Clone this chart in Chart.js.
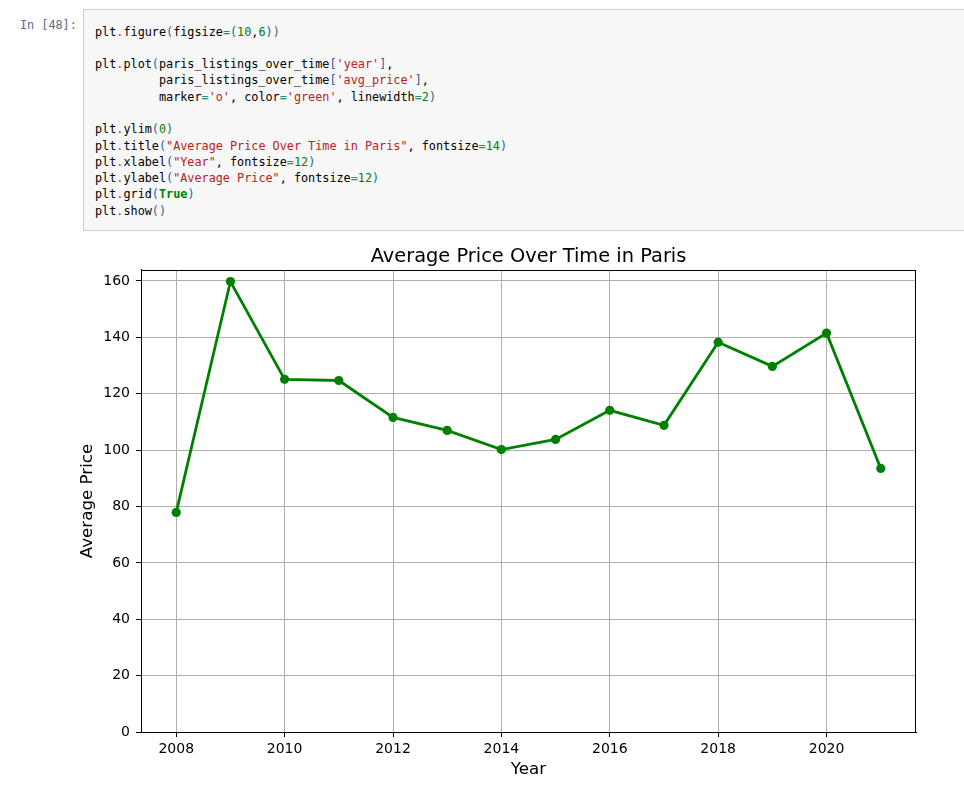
<!DOCTYPE html>
<html>
<head>
<meta charset="utf-8">
<script src="https://cdn.jsdelivr.net/npm/chart.js@4.4.0/dist/chart.umd.min.js"></script>
<style>
  html, body { margin: 0; padding: 0; background: #fff; }
  body { width: 964px; height: 802px; position: relative; overflow: hidden; }
  .prompt {
    position: absolute; left: 20px; top: 17px;
    font: 11.8px/16.3px "DejaVu Sans Mono", monospace; color: #5a6a8c;
  }
  .cell {
    position: absolute; left: 83px; top: 9px; width: 900px; height: 222px;
    background: #f7f7f7; border: 1px solid #cfcfcf; box-sizing: border-box;
  }
  .cell pre {
    position: absolute; left: 11px; top: 13.5px; margin: 0;
    font: 11.8px/16.3px "DejaVu Sans Mono", monospace; color: #000;
  }
  .o { color: #8a3fb0; }   /* dot operator */
  .b { color: #1f5f9f; }   /* brackets */
  .e { color: #2a8a7a; }   /* = */
  .n { color: #008000; }   /* numbers */
  .s { color: #ba2121; }   /* strings */
  .k { color: #008000; font-weight: bold; }
  #wrap { position: absolute; left: 0; top: 236px; width: 964px; height: 566px; }
</style>
</head>
<body>
<div class="prompt">In [48]:</div>
<div class="cell"><pre>plt<span class="o">.</span>figure<span class="b">(</span>figsize<span class="e">=</span><span class="b">(</span><span class="n">10</span>,<span class="n">6</span><span class="b">))</span>

plt<span class="o">.</span>plot<span class="b">(</span>paris_listings_over_time<span class="b">[</span><span class="s">'year'</span><span class="b">]</span>,
         paris_listings_over_time<span class="b">[</span><span class="s">'avg_price'</span><span class="b">]</span>,
         marker<span class="e">=</span><span class="s">'o'</span>, color<span class="e">=</span><span class="s">'green'</span>, linewidth<span class="e">=</span><span class="n">2</span><span class="b">)</span>

plt<span class="o">.</span>ylim<span class="b">(</span><span class="n">0</span><span class="b">)</span>
plt<span class="o">.</span>title<span class="b">(</span><span class="s">"Average Price Over Time in Paris"</span>, fontsize<span class="e">=</span><span class="n">14</span><span class="b">)</span>
plt<span class="o">.</span>xlabel<span class="b">(</span><span class="s">"Year"</span>, fontsize<span class="e">=</span><span class="n">12</span><span class="b">)</span>
plt<span class="o">.</span>ylabel<span class="b">(</span><span class="s">"Average Price"</span>, fontsize<span class="e">=</span><span class="n">12</span><span class="b">)</span>
plt<span class="o">.</span>grid<span class="b">(</span><span class="k">True</span><span class="b">)</span>
plt<span class="o">.</span>show<span class="b">()</span></pre></div>
<div id="wrap"><canvas id="chart" width="964" height="566"></canvas></div>
<script>
// values
const years = [2008, 2009, 2010, 2011, 2012, 2013, 2014, 2015, 2016, 2017, 2018, 2019, 2020, 2021];
const avgPrice = [77.9, 159.8, 125.1, 124.7, 111.6, 107.0, 100.2, 103.8, 114.1, 108.8, 138.3, 129.7, 141.5, 93.5];
const xTicks = [2008, 2010, 2012, 2014, 2016, 2018, 2020];
const yTicks = [0, 20, 40, 60, 80, 100, 120, 140, 160];

const FONT = "'DejaVu Sans', sans-serif";

// matplotlib draws a full box round the axes, Chart.js only the two axis lines
const frame = {
  id: 'frame',
  afterDraw(chart) {
    const { ctx, chartArea: a } = chart;
    ctx.save();
    ctx.strokeStyle = '#000';
    ctx.lineWidth = 1;
    ctx.strokeRect(a.left + 0.5, a.top + 0.5, a.right - a.left - 1, a.bottom - a.top);
    ctx.restore();
  }
};

new Chart(document.getElementById('chart'), {
  type: 'line',
  data: {
    datasets: [{
      data: years.map((y, i) => ({ x: y, y: avgPrice[i] })),
      borderColor: '#008000',
      backgroundColor: '#008000',
      borderWidth: 2.8,
      pointRadius: 4.6,
      pointBorderWidth: 0,
      pointHoverRadius: 4.6,
      tension: 0
    }]
  },
  options: {
    responsive: false,
    animation: false,
    layout: { padding: { left: 0, right: 48, top: 0, bottom: 0 } },
    plugins: {
      legend: { display: false },
      tooltip: { enabled: false },
      title: {
        display: true,
        text: 'Average Price Over Time in Paris',
        fullSize: false,
        color: '#000',
        font: { family: FONT, size: 19.4, weight: 'normal' },
        padding: { top: 9.2, bottom: 1.5 }
      }
    },
    scales: {
      x: {
        type: 'linear',
        min: 2007.35,
        max: 2021.65,
        afterBuildTicks: (s) => { s.ticks = xTicks.map(v => ({ value: v })); },
        afterFit: (s) => { s.height = 70; },
        ticks: {
          color: '#000',
          font: { family: FONT, size: 14 },
          padding: 4,
          maxRotation: 0,
          callback: (v) => String(v)
        },
        grid: { color: '#b0b0b0', lineWidth: 1, tickLength: 5, tickColor: '#000' },
        border: { color: '#000', width: 1 },
        title: {
          display: true,
          text: 'Year',
          color: '#000',
          font: { family: FONT, size: 16.7 },
          padding: { top: 0, bottom: 22 }
        }
      },
      y: {
        min: 0,
        max: 163.9,
        afterBuildTicks: (s) => { s.ticks = yTicks.map(v => ({ value: v })); },
        afterFit: (s) => { s.width = 141; },
        ticks: {
          color: '#000',
          font: { family: FONT, size: 14 },
          padding: 6,
          callback: (v) => String(v)
        },
        grid: { color: '#b0b0b0', lineWidth: 1, tickLength: 5, tickColor: '#000' },
        border: { color: '#000', width: 1 },
        title: {
          display: true,
          text: 'Average Price',
          color: '#000',
          font: { family: FONT, size: 16.7 },
          padding: { top: 78, bottom: 0 }
        }
      }
    }
  },
  plugins: [frame]
});
</script>
</body>
</html>
